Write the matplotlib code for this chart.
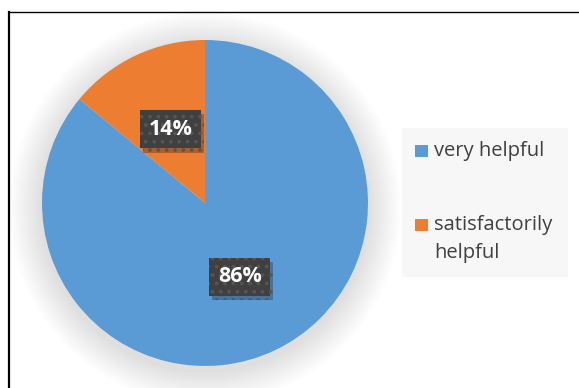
import matplotlib.pyplot as plt
import matplotlib.patheffects as pe
from matplotlib.lines import Line2D
from matplotlib.patches import Circle, Rectangle

# data
labels = ['very helpful', 'satisfactorily\nhelpful']
shares = [86, 14]
colors = ['#5b9bd5', '#ed7d31']

plt.rcParams['font.family'] = ['Open Sans', 'DejaVu Sans']
plt.rcParams['hatch.linewidth'] = 1.5

fig = plt.figure(figsize=(5.79, 3.88), dpi=100)
W, H = 579, 388

def fx(px):
    return px / W

def fy(py):
    return 1 - py / H

# pie box in pixels: x 42..368, y(top) 40..366
ax = fig.add_axes([fx(42), fy(366), 326 / W, 326 / H])

# soft shadow round the pie
n = 16
for i in range(n):
    r = 1.0 + 0.2 * (n - i) / n
    ax.add_patch(Circle((0, -0.03), r, fc='black', ec='none',
                        alpha=0.007, clip_on=False, zorder=0))

wedges, texts, autotexts = ax.pie(
    shares, colors=colors, startangle=90, counterclock=False,
    radius=1, autopct='%d%%', pctdistance=0.5,
    wedgeprops=dict(linewidth=0),
    textprops=dict(color='white', fontsize=15.5, fontweight='bold'))
for w in wedges:
    w.set_zorder(2)
for t in autotexts:
    t.set_zorder(5)
    t.set_bbox(dict(boxstyle='square,pad=0.4', fc='#404040', ec='#555555',
                    lw=0, hatch='..'))
    t.get_bbox_patch().set_path_effects([
        pe.SimplePatchShadow(offset=(2, -3), shadow_rgbFace='black', alpha=0.25),
        pe.Normal()])
ax.set_xlim(-1, 1)
ax.set_ylim(-1, 1)
ax.axis('off')

# legend drawn by hand: background, squares, labels
fig.patches.append(Rectangle((fx(402), fy(277)), 166 / W, 149 / H,
                             transform=fig.transFigure, fc='#f7f7f7', ec='none'))
entry_y = [151, 225]
for lab, col, y0 in zip(labels, colors, entry_y):
    fig.patches.append(Rectangle((fx(415), fy(y0 + 6)), 13 / W, 12 / H,
                                 transform=fig.transFigure, fc=col, ec='none'))
    for k, line in enumerate(lab.split('\n')):
        fig.text(fx(434), fy(y0 + 28 * k), line, ha='left', va='center',
                 fontsize=14.5, color='#404040')

# chart border (left and top visible)
fig.add_artist(Line2D([fx(8.5), fx(8.5)], [0, fy(11.5)], color='black', lw=1.6))
fig.add_artist(Line2D([fx(8.5), 1], [fy(11.5), fy(11.5)], color='black', lw=1.0))

fig.savefig('out.png', dpi=100)
